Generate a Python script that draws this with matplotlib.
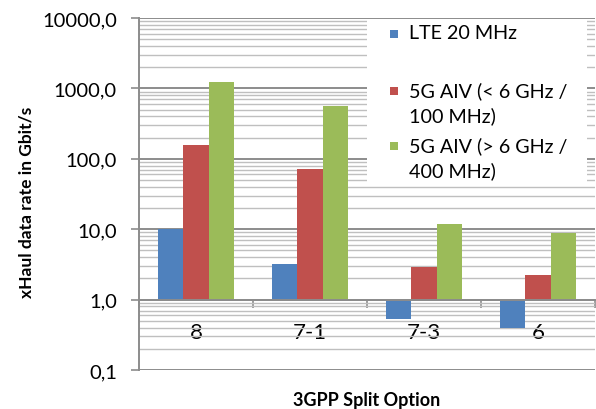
import numpy as np
import matplotlib.pyplot as plt
from matplotlib.patches import Rectangle
from matplotlib.ticker import FixedLocator, NullFormatter

plt.rcParams['font.family'] = ['Lato', 'DejaVu Sans']

# Data
categories = ["8", "7-1", "7-3", "6"]
lte_20 = [10.0, 3.2, 0.53, 0.39]
aiv_low = [157, 71, 2.9, 2.2]
aiv_high = [1250, 560, 11.8, 8.9]

series_names = ["LTE 20 MHz", "5G AIV (< 6 GHz /\n100 MHz)", "5G AIV (> 6 GHz /\n400 MHz)"]
colors = ["#4F81BD", "#C0504D", "#9BBB59"]
yticks = [0.1, 1, 10, 100, 1000, 10000]
ytick_labels = ["0,1", "1,0", "10,0", "100,0", "1000,0", "10000,0"]

fig = plt.figure(figsize=(5.96, 4.10), dpi=100)
ax = fig.add_axes([139 / 596, 1 - 371 / 410, 456 / 596, 352 / 410])
ax.set_yscale("log")
ax.set_ylim(0.1, 10000)
ax.set_xlim(-0.5, len(categories) - 0.5)

# Gridlines
ax.yaxis.set_major_locator(FixedLocator(yticks))
minor = [m * 10.0 ** e for e in range(-1, 4) for m in range(2, 10)]
ax.yaxis.set_minor_locator(FixedLocator(minor))
ax.yaxis.set_minor_formatter(NullFormatter())
ax.grid(True, which="major", axis="y", color="#8C8C8C", linewidth=1.4, zorder=0)
ax.grid(True, which="minor", axis="y", color="#BFBFBF", linewidth=1.0, zorder=0)
ax.set_axisbelow(True)
ax.set_yticklabels(ytick_labels)
ax.tick_params(axis="y", which="major", length=6, width=1.2, color="#8C8C8C",
               pad=10, labelsize=14.5)
ax.tick_params(axis="y", which="minor", length=0)

# Bars start at 1.0
x = np.arange(len(categories))
w = 0.222
for i, (vals, c) in enumerate(zip([lte_20, aiv_low, aiv_high], colors)):
    vals = np.array(vals, dtype=float)
    ax.bar(x + (i - 1) * w, vals - 1, bottom=1, width=w, color=c, zorder=3)

# Category axis at 1.0
for s in ["top", "right"]:
    ax.spines[s].set_visible(False)
ax.spines["bottom"].set_position(("data", 1))
ax.spines["bottom"].set_color("#8C8C8C")
ax.spines["bottom"].set_linewidth(1.4)
ax.spines["bottom"].set_zorder(4)
ax.spines["left"].set_color("#8C8C8C")
ax.spines["left"].set_linewidth(1.4)
ax.xaxis.set_major_locator(FixedLocator(np.arange(-0.5, len(categories), 1.0)))
ax.xaxis.set_major_formatter(NullFormatter())
ax.xaxis.set_minor_locator(FixedLocator(x))
ax.set_xticklabels(categories, minor=True)
ax.tick_params(axis="x", which="major", length=6, width=1.2, color="#8C8C8C")
ax.tick_params(axis="x", which="minor", length=0, pad=16, labelsize=16)

# Axis titles
fig.text(27 / 596, 1 - 202 / 410, "xHaul data rate in Gbit/s", rotation=90,
         ha="center", va="center", fontsize=12.5, fontweight="bold")
fig.text(367 / 596, 1 - 401 / 410, "3GPP Split Option", ha="center", va="center",
         fontsize=13, fontweight="bold")

# Legend drawn like the spreadsheet one
tr = fig.transFigure
fig.patches.append(Rectangle((367 / 596, 1 - 187 / 410), 220 / 596, 166 / 410,
                             transform=tr, facecolor="white", edgecolor="none", zorder=5))
legend_rows = [35, 92, 147]
for name, c, yrow in zip(series_names, colors, legend_rows):
    fig.patches.append(Rectangle((390 / 596, 1 - (yrow + 4) / 410), 8 / 596, 8 / 410,
                                 transform=tr, facecolor=c, edgecolor="none", zorder=6))
    fig.text(409 / 596, 1 - (yrow - 10) / 410, name, ha="left", va="top",
             fontsize=14.2, linespacing=1.47, zorder=7)

fig.savefig("out.png", dpi=100)
